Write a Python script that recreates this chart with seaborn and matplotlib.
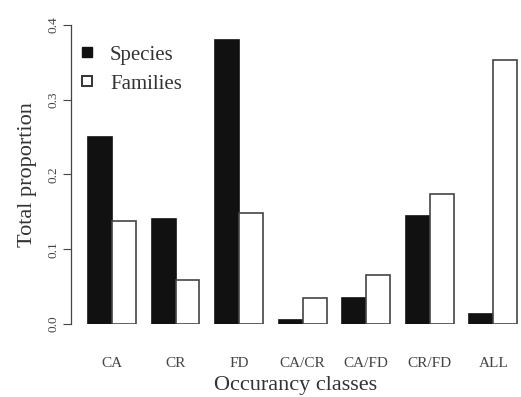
import matplotlib
matplotlib.use("Agg")
import matplotlib.pyplot as plt
from matplotlib.lines import Line2D
import seaborn as sns
import pandas as pd

categories = ["CA", "CR", "FD", "CA/CR", "CA/FD", "CR/FD", "ALL"]
species = [0.25, 0.14, 0.38, 0.005, 0.035, 0.144, 0.013]
families = [0.138, 0.059, 0.148, 0.035, 0.065, 0.174, 0.353]
yticks = [0.0, 0.1, 0.2, 0.3, 0.4]

df = pd.DataFrame({
    "cls": categories * 2,
    "value": species + families,
    "group": ["Species"] * len(categories) + ["Families"] * len(categories),
})

sns.set_theme(style="white")
plt.rcParams["font.family"] = ["Liberation Serif", "DejaVu Serif"]

fig = plt.figure(figsize=(5.21, 3.97), dpi=100)
ax = fig.add_axes([0.136, 0.184, 0.862, 0.753])

sns.barplot(data=df, x="cls", y="value", hue="group", order=categories,
            hue_order=["Species", "Families"],
            palette={"Species": "#111111", "Families": "white"},
            width=0.75, gap=0, edgecolor="#444444", linewidth=1.2,
            legend=False, ax=ax)
for p in ax.patches[:len(categories)]:
    p.set_edgecolor("#111111")

ax.set_xlim(-0.65, 6.42)
ax.set_ylim(0, 0.4)
ax.set_yticks(yticks)
ax.set_yticklabels([f"{t:.1f}" for t in yticks], rotation=90, va="center",
                   fontsize=9.5, color="#444444")
ax.tick_params(axis="y", length=6, width=0.8, color="#444444", pad=2, left=True)
ax.tick_params(axis="x", length=0, pad=24, labelsize=11, labelcolor="#444444")
for s in ["top", "right", "bottom"]:
    ax.spines[s].set_visible(False)
ax.spines["left"].set_color("#444444")
ax.spines["left"].set_linewidth(0.9)
ax.spines["left"].set_bounds(0, 0.4)

ax.set_xlabel("Occurancy classes", fontsize=16, color="#333333", labelpad=4)
ax.set_ylabel("Total proportion", fontsize=16, color="#333333", labelpad=8)

handles = [
    Line2D([], [], marker="s", linestyle="none", markersize=7,
           markerfacecolor="#111111", markeredgecolor="#111111"),
    Line2D([], [], marker="s", linestyle="none", markersize=7,
           markerfacecolor="white", markeredgecolor="#333333", markeredgewidth=1.4),
]
leg = ax.legend(handles, ["Species", "Families"], loc="upper left",
                bbox_to_anchor=(-0.01, 0.975), frameon=False, fontsize=15,
                handlelength=0.8, handletextpad=0.7, labelspacing=0.45,
                borderaxespad=0.2)
for t in leg.get_texts():
    t.set_color("#333333")

fig.savefig("out.png", dpi=100, facecolor="white")
